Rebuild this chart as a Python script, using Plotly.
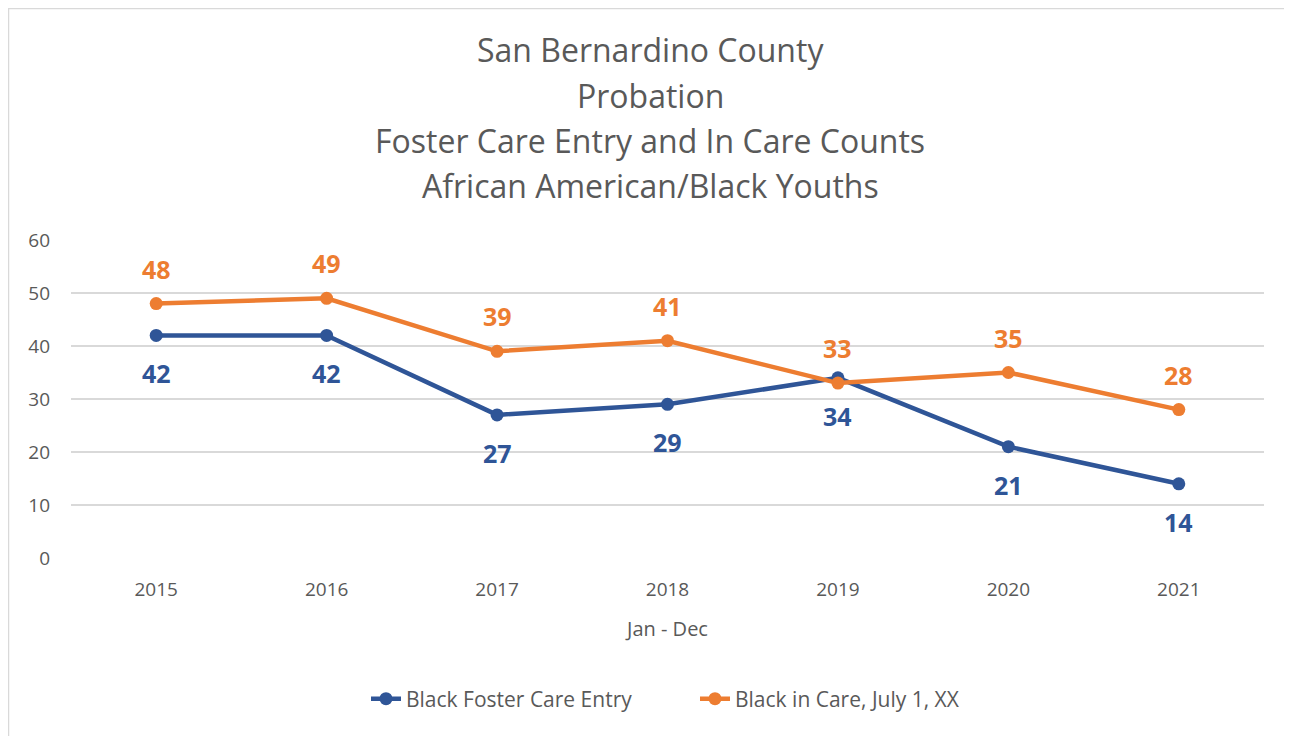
import plotly.graph_objects as go

years = ["2015", "2016", "2017", "2018", "2019", "2020", "2021"]
entry = [42, 42, 27, 29, 34, 21, 14]
in_care = [48, 49, 39, 41, 33, 35, 28]
y_ticks = [0, 10, 20, 30, 40, 50, 60]
title_lines = ["San Bernardino County", "Probation",
               "Foster Care Entry and In Care Counts", "African American/Black Youths"]

BLUE = "#2F5597"
ORANGE = "#ED7D31"
GRAY = "#595959"
FONT = "Open Sans"

# page body has an 8px margin; figure sized to fill the rest of the window
W, H = 1284, 728
ML, MR, MT, MB = 63, 28, 232, 178
pw = W - ML - MR
ph = H - MT - MB

fig = go.Figure()
fig.add_trace(go.Scatter(
    x=years, y=entry, name="Black Foster Care Entry",
    mode="lines+markers",
    line=dict(color=BLUE, width=4.5), marker=dict(size=13, color=BLUE),
))
fig.add_trace(go.Scatter(
    x=years, y=in_care, name="Black in Care, July 1, XX",
    mode="lines+markers",
    line=dict(color=ORANGE, width=4.5), marker=dict(size=13, color=ORANGE),
))

annotations = []
for i, v in enumerate(entry):
    annotations.append(dict(x=i, y=v, xref="x", yref="y", text=str(v), showarrow=False,
                            yshift=-38, font=dict(family=FONT, size=25, color=BLUE, weight="bold")))
for i, v in enumerate(in_care):
    annotations.append(dict(x=i, y=v, xref="x", yref="y", text=str(v), showarrow=False,
                            yshift=35, font=dict(family=FONT, size=25, color=ORANGE, weight="bold")))

# title lines, centres at page y = 50, 95, 140, 186
for k, line in enumerate(title_lines):
    yc = 50 + 45.3 * k - 8
    annotations.append(dict(
        text=line, xref="paper", yref="paper",
        x=(650 - 8 - ML) / pw, xanchor="center",
        y=1 + (MT - yc) / ph, yanchor="middle", showarrow=False,
        font=dict(family=FONT, size=32, color=GRAY),
    ))

fig.add_shape(type="rect", xref="paper", yref="paper",
              x0=(0.5 - ML) / pw, x1=(W + 10 - ML) / pw,
              y0=1 - (H + 10 - MT) / ph, y1=1 + (MT - 0.5) / ph,
              line=dict(color="#D9D9D9", width=1.5), layer="below")

fig.update_layout(
    width=W, height=H,
    margin=dict(l=ML, r=MR, t=MT, b=MB),
    paper_bgcolor="white", plot_bgcolor="white",
    font=dict(family=FONT, color=GRAY),
    annotations=annotations,
    xaxis=dict(
        type="category", range=[-0.5, 6.5], showgrid=False, showline=False, zeroline=False,
        tickfont=dict(size=19, color=GRAY), ticks="", ticklabelstandoff=18,
        title=dict(text="Jan - Dec", font=dict(size=20, color=GRAY), standoff=20),
    ),
    yaxis=dict(
        range=[0, 60], tickvals=y_ticks, showgrid=True, gridcolor="#D9D9D9",
        gridwidth=1.5, zeroline=False, showline=False,
        tickfont=dict(size=19, color=GRAY), ticks="", ticklabelstandoff=20,
    ),
    legend=dict(orientation="h", x=(366 - 8 - ML) / pw, xanchor="left",
                y=-(691 - (MT + ph)) / ph, yanchor="middle",
                entrywidth=284, entrywidthmode="pixels",
                font=dict(size=21, color=GRAY), traceorder="normal"),
    showlegend=True,
)

fig.write_html("out.html")
